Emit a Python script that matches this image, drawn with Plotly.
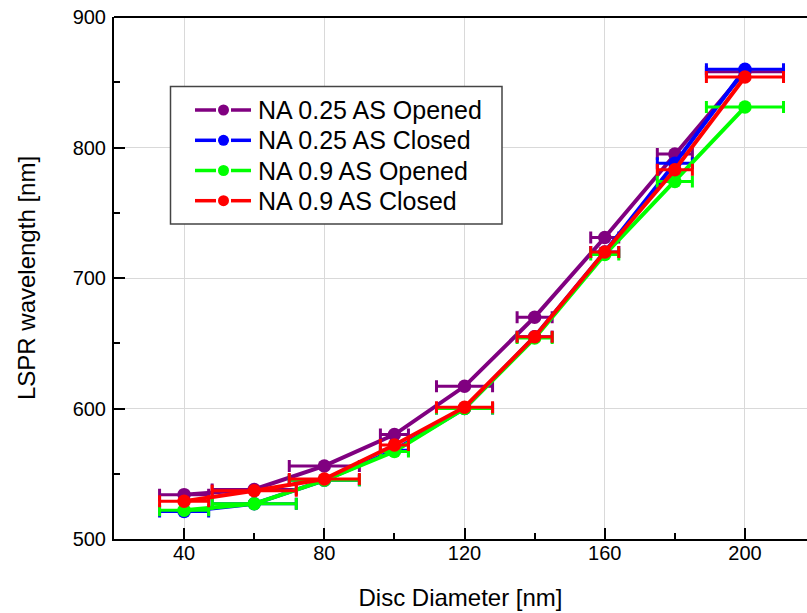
import plotly.graph_objects as go

# Disc diameters (nm) and horizontal uncertainty of each diameter
diameter = [40, 60, 80, 100, 120, 140, 160, 180, 200]
diameter_err = [7, 12, 10, 4, 8, 5, 4, 5, 11]

# LSPR peak wavelength (nm) for each imaging condition
na025_opened = [534, 538, 556, 580, 617, 670, 731, 795, 858]
na025_closed = [521, 527, 545, 568, 600, 655, 720, 788, 860]
na09_opened = [522, 527, 545, 567, 600, 654, 718, 774, 831]
na09_closed = [529, 537, 546, 572, 601, 655, 720, 783, 854]

series_names = ["NA 0.25 AS Opened", "NA 0.25 AS Closed",
                "NA 0.9 AS Opened", "NA 0.9 AS Closed"]
series_values = [na025_opened, na025_closed, na09_opened, na09_closed]
series_colors = ["#800080", "#0000ff", "#00ff00", "#ff0000"]

FONT = "Arial, 'Liberation Sans', sans-serif"
W, H = 807, 613
ML, MR, MT, MB = 114, 0, 17, 74


def px_x(px):
    """Horizontal pixel position -> paper coordinate."""
    return (px - ML) / (W - ML - MR)


def px_y(py):
    """Vertical pixel position (from top) -> paper coordinate."""
    return (H - MB - py) / (H - MT - MB)


fig = go.Figure()
for name, values, color in zip(series_names, series_values, series_colors):
    fig.add_trace(go.Scatter(
        x=diameter, y=values, name=name, mode="lines+markers",
        line=dict(color=color, width=4),
        marker=dict(color=color, size=13.5),
        error_x=dict(type="data", array=diameter_err, visible=True,
                     color=color, thickness=3, width=6),
        showlegend=False,
    ))

# Framed legend box with line-marker-line symbols
shapes = [
    dict(type="line", xref="paper", yref="paper", x0=0, x1=1, y0=1, y1=1,
         line=dict(color="black", width=2)),
    dict(type="rect", xref="paper", yref="paper",
         x0=px_x(170.5), x1=px_x(502), y0=px_y(224), y1=px_y(86.5),
         fillcolor="white", line=dict(color="#444444", width=1.5)),
]
annotations = []
row_y = [110, 140.3, 170.5, 200.7]
for name, color, ry in zip(series_names, series_colors, row_y):
    for x0, x1 in [(195, 216), (231, 251)]:
        shapes.append(dict(type="line", xref="paper", yref="paper",
                           x0=px_x(x0), x1=px_x(x1), y0=px_y(ry), y1=px_y(ry),
                           line=dict(color=color, width=3.5)))
    shapes.append(dict(type="circle", xref="paper", yref="paper",
                       x0=px_x(218), x1=px_x(229),
                       y0=px_y(ry + 5.5), y1=px_y(ry - 5.5),
                       fillcolor=color, line=dict(color=color, width=0)))
    annotations.append(dict(xref="paper", yref="paper", x=px_x(256),
                            y=px_y(ry), xanchor="left", yanchor="middle",
                            text=name, showarrow=False,
                            font=dict(size=25, family=FONT, color="black")))

fig.update_layout(
    width=W, height=H,
    margin=dict(l=ML, r=MR, t=MT, b=MB),
    paper_bgcolor="white", plot_bgcolor="white",
    font=dict(family=FONT, color="black"),
    showlegend=False,
    shapes=shapes,
    annotations=annotations,
)

fig.update_xaxes(
    range=[20, 217.7], tickvals=[40, 80, 120, 160, 200],
    showgrid=True, gridcolor="#d9d9d9", gridwidth=1, zeroline=False,
    showline=True, linecolor="black", linewidth=2,
    ticks="inside", ticklen=11, tickwidth=1.5, tickcolor="black",
    minor=dict(dtick=20, tick0=20, ticks="inside", ticklen=6,
               tickwidth=1.5, tickcolor="black", showgrid=False),
    tickfont=dict(size=20, family=FONT), ticklabelstandoff=-5,
    title=dict(text="Disc Diameter [nm]", font=dict(size=24, family=FONT),
               standoff=26),
)

fig.update_yaxes(
    range=[500, 900], dtick=100, tick0=500,
    showgrid=True, gridcolor="#d9d9d9", gridwidth=1, zeroline=False,
    showline=True, linecolor="black", linewidth=2,
    ticks="inside", ticklen=11, tickwidth=1.5, tickcolor="black",
    minor=dict(dtick=50, tick0=500, ticks="inside", ticklen=6,
               tickwidth=1.5, tickcolor="black", showgrid=False),
    tickfont=dict(size=20, family=FONT), ticklabelstandoff=2,
    title=dict(text="LSPR wavelength [nm]", font=dict(size=24, family=FONT),
               standoff=30),
)

fig.write_html("out.html")
